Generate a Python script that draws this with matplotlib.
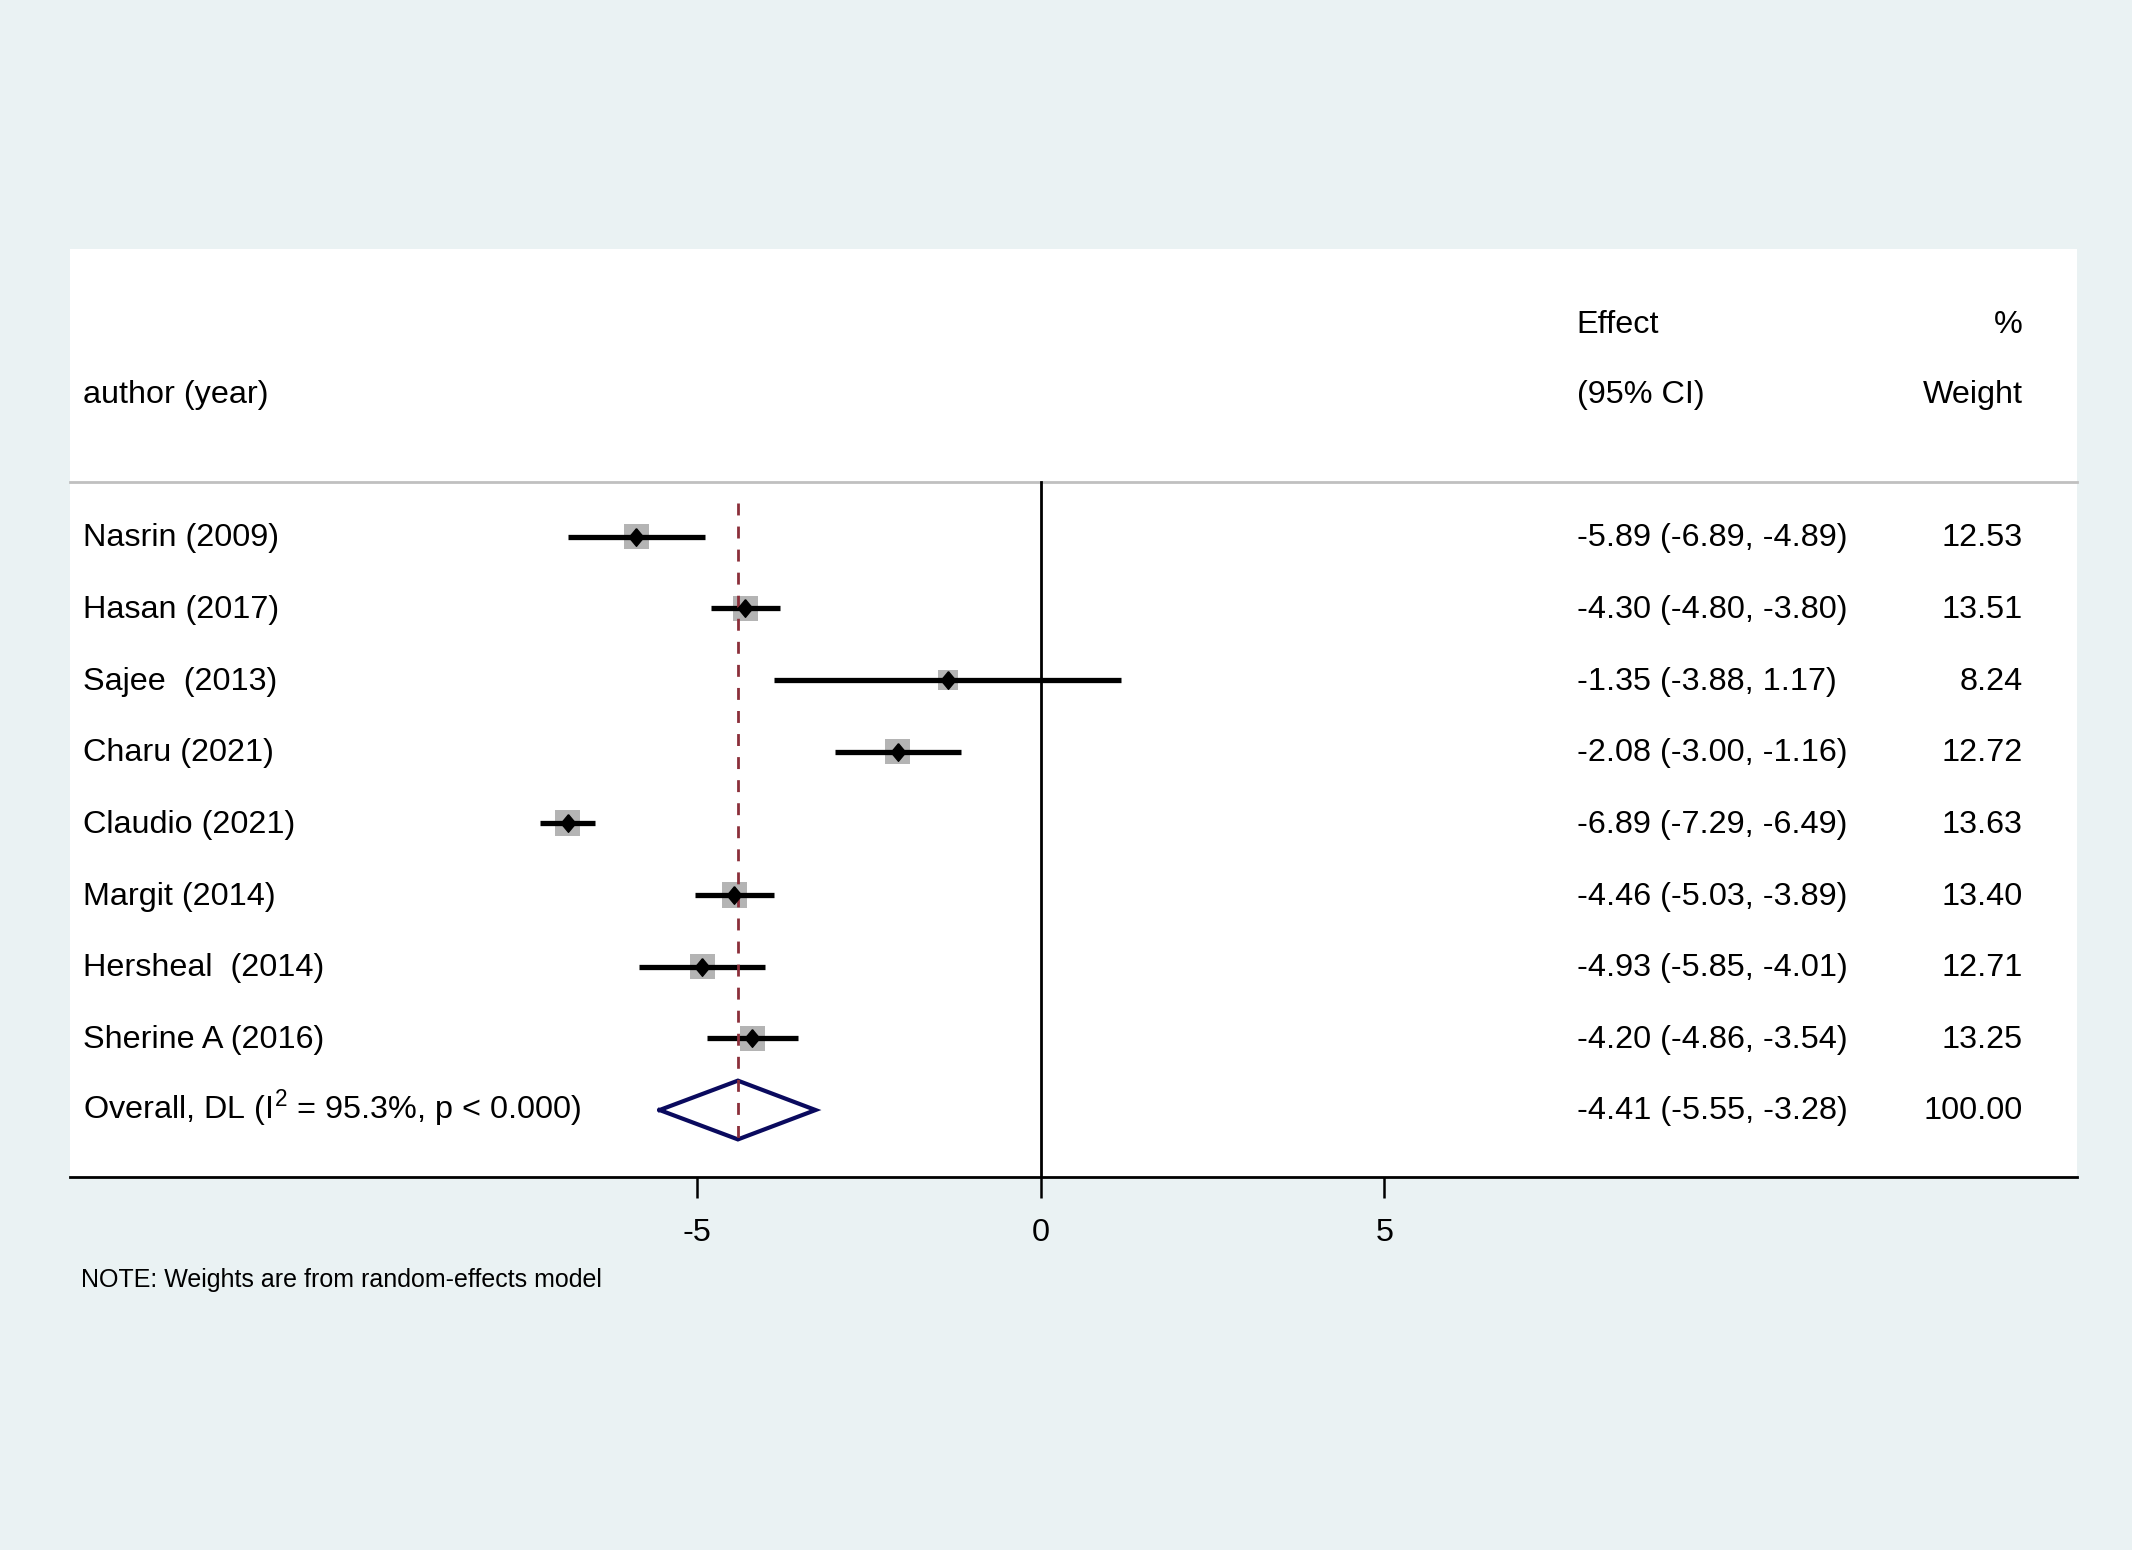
import numpy as np
import matplotlib.pyplot as plt

plt.rcParams['font.family'] = ['Liberation Sans', 'DejaVu Sans']
plt.rcParams['mathtext.fontset'] = 'custom'
plt.rcParams['mathtext.rm'] = 'Liberation Sans'

studies = ['Nasrin (2009)', 'Hasan (2017)', 'Sajee  (2013)', 'Charu (2021)',
           'Claudio (2021)', 'Margit (2014)', 'Hersheal  (2014)', 'Sherine A (2016)']
effect = np.array([-5.89, -4.30, -1.35, -2.08, -6.89, -4.46, -4.93, -4.20])
lower = np.array([-6.89, -4.80, -3.88, -3.00, -7.29, -5.03, -5.85, -4.86])
upper = np.array([-4.89, -3.80, 1.17, -1.16, -6.49, -3.89, -4.01, -3.54])
weight = np.array([12.53, 13.51, 8.24, 12.72, 13.63, 13.40, 12.71, 13.25])

overall_label = r'Overall, DL (I$^\mathregular{2}$ = 95.3%, p < 0.000)'
overall = -4.41
overall_lo = -5.55
overall_hi = -3.28
overall_w = 100.00

xticks = [-5, 0, 5]

bg = '#EAF2F3'
fig = plt.figure(figsize=(21.32, 15.5), dpi=100, facecolor=bg)
ax = fig.add_axes([0.0326, 0.2404, 0.9415, 0.5991])
ax.set_facecolor('white')

ax.set_xlim(-14.14, 15.08)
ax.set_ylim(8.94, -4.02)

rows = np.arange(len(studies))
n = len(studies)

# header separator and reference lines
ax.plot([-14.14, 15.08], [-0.77, -0.77], color='#C0C0C0', lw=2, clip_on=False)
ax.plot([0, 0], [-0.77, 8.94], color='black', lw=2)
ax.plot([overall, overall], [-0.47, 8.45], color='#8B2F3A', lw=2,
        dashes=(4.3, 4.0), zorder=4)

# study markers
ax.scatter(effect, rows, marker='s', s=25.5 * weight, color='#B4B4B4',
           linewidths=0, zorder=2)
ax.hlines(rows, lower, upper, color='black', lw=3.8, zorder=3)
diamond = [(0, 1), (0.83, 0), (0, -1), (-0.83, 0), (0, 1)]
ax.plot(effect, rows, linestyle='none', marker=diamond, markersize=12.7,
        color='black', zorder=5)

# pooled diamond
dx = [overall_lo, overall, overall_hi, overall, overall_lo]
dy = [n, n - 0.41, n, n + 0.41, n]
ax.plot(dx, dy, color='#0A0A5E', lw=3.0, zorder=3, solid_joinstyle='miter')

fs = 23.3
ax.text(-13.94, -1.98, 'author (year)', fontsize=fs, va='center', ha='left')
ax.text(7.80, -2.96, 'Effect', fontsize=fs, va='center', ha='left')
ax.text(7.80, -1.98, '(95% CI)', fontsize=fs, va='center', ha='left')
ax.text(14.29, -2.96, '%', fontsize=fs, va='center', ha='right')
ax.text(14.29, -1.98, 'Weight', fontsize=fs, va='center', ha='right')

for i in range(n):
    ax.text(-13.94, rows[i] + 0.02, studies[i], fontsize=fs, va='center', ha='left')
    ax.text(7.80, rows[i] + 0.02, f'{effect[i]:.2f} ({lower[i]:.2f}, {upper[i]:.2f})',
            fontsize=fs, va='center', ha='left')
    ax.text(14.29, rows[i] + 0.02, f'{weight[i]:.2f}', fontsize=fs, va='center', ha='right')

ax.text(-13.94, n - 0.01, overall_label, fontsize=fs, va='center', ha='left')
ax.text(7.80, n + 0.02, f'{overall:.2f} ({overall_lo:.2f}, {overall_hi:.2f})',
        fontsize=fs, va='center', ha='left')
ax.text(14.29, n + 0.02, f'{overall_w:.2f}', fontsize=fs, va='center', ha='right')

for side in ['top', 'left', 'right']:
    ax.spines[side].set_visible(False)
ax.spines['bottom'].set_linewidth(2)
ax.set_yticks([])
ax.set_xticks(xticks)
ax.set_xticklabels([str(t) for t in xticks])
ax.tick_params(axis='x', length=15, width=1.8, pad=14, labelsize=fs)

fig.text(0.038, 0.174, 'NOTE: Weights are from random-effects model',
         fontsize=18, va='center', ha='left')

fig.savefig('out.png', dpi=100, facecolor=bg)
